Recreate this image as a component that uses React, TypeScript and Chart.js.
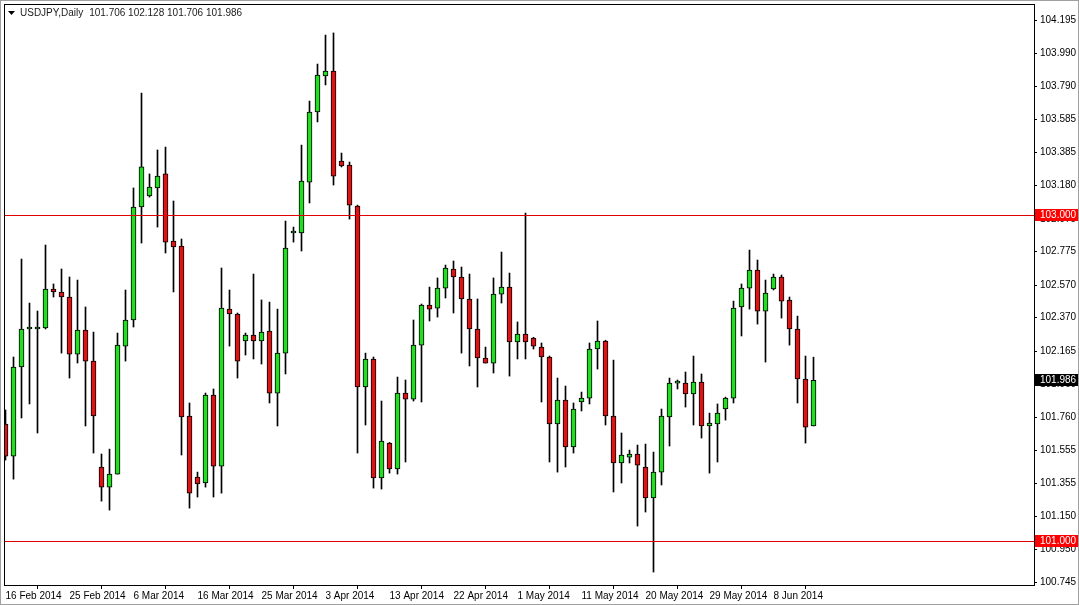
import React, { useEffect, useRef } from "react";
import { Chart, registerables } from "chart.js";

Chart.register(...registerables);

// ---- Data (USDJPY daily) ----
const opens = [
  101.718, 101.521, 102.068, 102.301, 102.301, 102.307, 102.546, 102.528, 102.497, 102.147,
  102.294, 102.104, 101.454, 101.331, 101.411, 102.196, 102.356, 103.049, 103.117, 103.166,
  103.252, 102.840, 102.810, 101.767, 101.393, 101.356, 101.896, 101.460, 102.423, 102.393,
  102.227, 102.264, 102.227, 102.288, 101.908, 102.153, 102.890, 102.890, 103.202, 103.632,
  103.853, 103.883, 103.331, 103.307, 103.055, 101.945, 102.117, 101.387, 101.601, 101.442,
  101.908, 101.871, 102.202, 102.448, 102.429, 102.552, 102.669, 102.620, 102.485, 102.301,
  102.123, 102.092, 102.515, 102.558, 102.221, 102.270, 102.245, 102.190, 102.129, 101.718,
  101.865, 101.577, 101.853, 101.877, 102.178, 102.227, 101.767, 101.479, 101.515, 101.534,
  101.454, 101.264, 101.423, 101.761, 101.969, 101.969, 101.902, 101.975, 101.706, 101.718,
  101.810, 101.877, 102.436, 102.552, 102.663, 102.411, 102.546, 102.620, 102.479, 102.301,
  101.994, 101.706,
];
const highs = [
  101.804, 102.129, 102.730, 102.460, 102.411, 102.816, 102.577, 102.669, 102.620, 102.601,
  102.436, 102.282, 101.534, 101.564, 102.276, 102.540, 103.166, 103.748, 103.252, 103.399,
  103.417, 103.086, 102.853, 101.847, 101.423, 101.908, 101.933, 102.675, 102.540, 102.399,
  102.276, 102.638, 102.479, 102.466, 102.423, 102.963, 102.926, 103.429, 103.699, 103.926,
  104.104, 104.117, 103.380, 103.325, 103.061, 102.153, 102.129, 101.859, 101.605, 102.006,
  101.988, 102.356, 102.454, 102.558, 102.614, 102.693, 102.718, 102.681, 102.638, 102.485,
  102.190, 102.614, 102.773, 102.644, 102.344, 103.012, 102.250, 102.215, 102.135, 102.000,
  101.951, 101.847, 101.914, 102.215, 102.350, 102.232, 102.110, 101.663, 101.558, 101.589,
  101.595, 101.546, 101.810, 102.000, 101.988, 102.037, 102.135, 102.025, 101.785, 101.841,
  101.883, 102.472, 102.577, 102.785, 102.724, 102.601, 102.638, 102.632, 102.497, 102.380,
  102.135, 102.128,
];
const lows = [
  101.497, 101.380, 101.755, 101.841, 101.663, 102.301, 102.497, 102.153, 102.000, 102.092,
  101.706, 101.540, 101.245, 101.190, 101.411, 102.104, 102.313, 102.828, 103.110, 102.926,
  102.767, 102.528, 101.528, 101.202, 101.270, 101.331, 101.270, 101.294, 102.196, 102.000,
  102.141, 102.117, 102.086, 101.847, 101.706, 102.025, 102.834, 102.779, 103.074, 103.571,
  103.798, 103.184, 103.295, 102.975, 101.540, 101.712, 101.325, 101.319, 101.417, 101.411,
  101.485, 101.859, 101.853, 102.350, 102.374, 102.491, 102.399, 102.153, 102.074, 101.945,
  102.092, 102.031, 102.460, 102.012, 102.117, 102.117, 102.178, 101.853, 101.485, 101.423,
  101.454, 101.540, 101.798, 101.841, 102.055, 101.712, 101.301, 101.356, 101.479, 101.092,
  101.178, 100.810, 101.344, 101.583, 101.933, 101.822, 101.712, 101.632, 101.417, 101.485,
  101.742, 101.847, 102.258, 102.423, 102.331, 102.098, 102.540, 102.368, 102.202, 101.847,
  101.601, 101.706,
];
const closes = [
  101.521, 102.068, 102.301, 102.304, 102.307, 102.546, 102.528, 102.497, 102.147, 102.294,
  102.104, 101.767, 101.331, 101.411, 102.202, 102.356, 103.049, 103.295, 103.172, 103.239,
  102.834, 102.804, 101.761, 101.294, 101.350, 101.896, 101.460, 102.429, 102.393, 102.104,
  102.264, 102.227, 102.282, 101.908, 102.153, 102.798, 102.893, 103.209, 103.632, 103.859,
  103.883, 103.239, 103.301, 103.061, 101.945, 102.117, 101.387, 101.614, 101.442, 101.908,
  101.871, 102.202, 102.448, 102.423, 102.552, 102.675, 102.620, 102.485, 102.301, 102.123,
  102.092, 102.515, 102.558, 102.221, 102.270, 102.221, 102.196, 102.129, 101.718, 101.865,
  101.577, 101.810, 101.877, 102.178, 102.227, 101.767, 101.479, 101.528, 101.534, 101.466,
  101.264, 101.423, 101.767, 101.969, 101.972, 101.902, 101.975, 101.706, 101.724, 101.785,
  101.877, 102.429, 102.552, 102.663, 102.411, 102.521, 102.620, 102.472, 102.301, 101.994,
  101.699, 101.986,
];

const xTickLabels = [
  "16 Feb 2014", "25 Feb 2014", "6 Mar 2014", "16 Mar 2014", "25 Mar 2014", "3 Apr 2014",
  "13 Apr 2014", "22 Apr 2014", "1 May 2014", "11 May 2014", "20 May 2014", "29 May 2014",
  "8 Jun 2014",
];
const xTickBars = [0, 8, 16, 24, 32, 40, 48, 56, 64, 72, 80, 88, 96];

const yTicks = [
  104.195, 103.99, 103.79, 103.585, 103.385, 103.18, 102.975, 102.775, 102.57, 102.37,
  102.165, 101.96, 101.76, 101.555, 101.355, 101.15, 100.95, 100.745,
];

const levelLines = [103.0, 101.0];
const lastPrice = 101.986;
const titleSymbol = "USDJPY,Daily";
const titleValues = "101.706 102.128 101.706 101.986";

const yMin = 100.7305;
const yMax = 104.2945;
const xMin = -0.1875;
const xMax = 128.5625;

const GREEN = "#22dd22";
const RED = "#dd1414";
const FONT = "'Liberation Sans', Arial, sans-serif";

const mtPlugin = {
  id: "mtDecor",
  beforeDraw(chart: any) {
    const { ctx, width, height } = chart;
    ctx.save();
    ctx.fillStyle = "#ffffff";
    ctx.fillRect(0, 0, width, height);
    ctx.restore();
  },
  afterDraw(chart: any) {
    const { ctx, chartArea, width, height } = chart;
    const ys = chart.scales.y;
    ctx.save();
    // chart frame
    ctx.strokeStyle = "#000000";
    ctx.lineWidth = 1;
    ctx.strokeRect(chartArea.left + 0.5, chartArea.top + 0.5, chartArea.right - chartArea.left, chartArea.bottom - chartArea.top);
    // outer window frame
    ctx.strokeStyle = "#a0a0a0";
    ctx.strokeRect(0.5, 0.5, width - 1, height - 1);

    // level lines
    ctx.font = `10px ${FONT}`;
    ctx.textBaseline = "middle";
    ctx.textAlign = "left";
    levelLines.forEach((lv) => {
      const y = Math.round(ys.getPixelForValue(lv));
      ctx.fillStyle = "#e00000";
      ctx.fillRect(chartArea.left + 1, y, chartArea.right - chartArea.left - 1, 1);
      ctx.fillStyle = "#ff0000";
      ctx.fillRect(chartArea.right + 1, y - 6, 43, 12);
      ctx.fillStyle = "#ffffff";
      ctx.fillText(lv.toFixed(3), chartArea.right + 6, y + 0.5);
    });
    // last price label
    const yl = Math.round(ys.getPixelForValue(lastPrice));
    ctx.fillStyle = "#000000";
    ctx.fillRect(chartArea.right + 1, yl - 6, 43, 12);
    ctx.fillStyle = "#ffffff";
    ctx.fillText(lastPrice.toFixed(3), chartArea.right + 6, yl + 0.5);

    // title
    ctx.fillStyle = "#000000";
    ctx.beginPath();
    ctx.moveTo(8, 11);
    ctx.lineTo(15, 11);
    ctx.lineTo(11.5, 15);
    ctx.closePath();
    ctx.fill();
    ctx.fillStyle = "#1a1a1a";
    ctx.fillText(titleSymbol, 20, 13);
    const w = ctx.measureText(titleSymbol).width;
    ctx.fillText(titleValues, 20 + w + 6, 13);
    ctx.restore();
  },
};

export default function App() {
  const ref = useRef<HTMLCanvasElement | null>(null);

  useEffect(() => {
    if (!ref.current) return;
    document.body.style.margin = "0";
    const idx = opens.map((_, i) => i);
    const wickData = idx.map((i) => ({ x: i, y: [lows[i], highs[i]] }));
    const bodyData = idx.map((i) => ({
      x: i,
      y: [Math.min(opens[i], closes[i]), Math.max(opens[i], closes[i])],
    }));
    const bodyColors = idx.map((i) => (closes[i] >= opens[i] ? GREEN : RED));

    const chart = new Chart(ref.current, {
      type: "bar",
      data: {
        datasets: [
          {
            label: "body",
            data: bodyData as any,
            backgroundColor: bodyColors,
            borderColor: "#000000",
            borderWidth: 1,
            borderSkipped: false,
            barThickness: 5,
            minBarLength: 2,
            grouped: false,
            order: 0,
          },
          {
            label: "wick",
            data: wickData as any,
            backgroundColor: "#000000",
            borderWidth: 0,
            barThickness: 1,
            grouped: false,
            order: 1,
          },
        ],
      },
      plugins: [mtPlugin],
      options: {
        animation: false,
        responsive: true,
        maintainAspectRatio: false,
        devicePixelRatio: 1,
        layout: { padding: { left: 4, top: 4, right: 0, bottom: 0 } },
        plugins: { legend: { display: false }, tooltip: { enabled: false }, title: { display: false } },
        scales: {
          x: {
            type: "linear",
            min: xMin,
            max: xMax,
            bounds: "data",
            offset: false,
            border: { display: false },
            grid: { display: true, drawOnChartArea: false, drawTicks: true, tickLength: 4, color: "#000000" },
            ticks: {
              autoSkip: false,
              maxRotation: 0,
              minRotation: 0,
              align: "start",
              padding: 1,
              color: "#000000",
              font: { family: FONT, size: 10 },
              callback: (_v: any, i: number) => xTickLabels[i],
            },
            afterBuildTicks: (scale: any) => {
              scale.ticks = xTickBars.map((v) => ({ value: v }));
            },
            afterFit: (scale: any) => {
              scale.height = 20;
              scale.paddingLeft = 0;
              scale.paddingRight = 0;
              scale.paddingTop = 0;
              scale.paddingBottom = 0;
            },
          },
          y: {
            type: "linear",
            position: "right",
            min: yMin,
            max: yMax,
            bounds: "data",
            border: { display: false },
            grid: { display: true, drawOnChartArea: false, drawTicks: true, tickLength: 3, color: "#000000" },
            ticks: {
              padding: 3,
              color: "#000000",
              font: { family: FONT, size: 10 },
              callback: (v: any) => Number(v).toFixed(3),
            },
            afterBuildTicks: (scale: any) => {
              scale.ticks = yTicks.map((v) => ({ value: v }));
            },
            afterFit: (scale: any) => {
              scale.width = 45;
              scale.paddingLeft = 0;
              scale.paddingRight = 0;
              scale.paddingTop = 0;
              scale.paddingBottom = 0;
            },
          },
        },
      } as any,
    });
    return () => chart.destroy();
  }, []);

  return (
    <div style={{ position: "fixed", left: 0, top: 0, width: 1079, height: 605, background: "#fff" }}>
      <canvas ref={ref} />
    </div>
  );
}
